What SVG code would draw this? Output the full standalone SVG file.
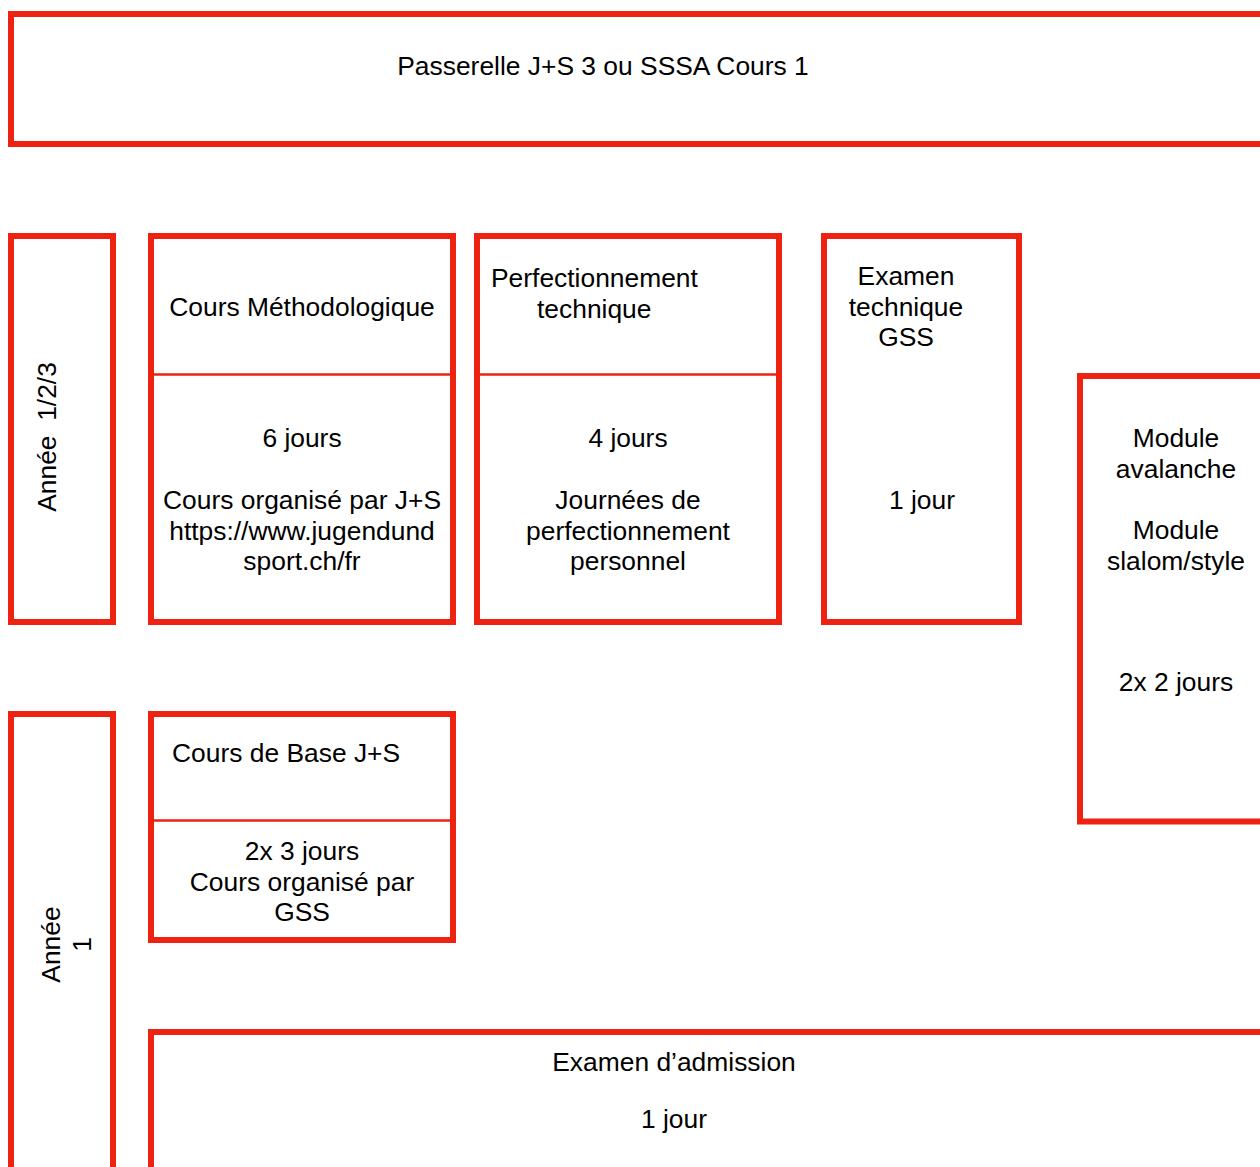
<svg xmlns="http://www.w3.org/2000/svg" width="1260" height="1167" viewBox="0 0 1260 1167">
<style>
.box{fill:#fff;stroke:#EE2210;stroke-width:6}
.div{stroke:#EE2210;stroke-width:2.5}
text{font-family:"Liberation Sans",Arial,sans-serif;font-size:26.4px;fill:#000}
.c{text-anchor:middle}
</style>
<rect width="1260" height="1167" fill="#fff"/>
<g id="passerelle">
<rect class="box" x="11" y="14" width="1260" height="130"/>
<text class="c" x="603" y="75">Passerelle J+S 3 ou SSSA Cours 1</text>
</g>
<g id="annee123">
<rect class="box" x="11" y="236" width="102" height="386"/>
<text class="c" transform="translate(56,437) rotate(-90)" xml:space="preserve">Année  1/2/3</text>
</g>
<g id="methodo">
<rect class="box" x="151" y="236" width="302" height="386"/>
<line class="div" x1="151" y1="374.5" x2="453" y2="374.5"/>
<text class="c" x="302" y="315.5">Cours Méthodologique</text>
<text class="c" x="302" y="447">6 jours</text>
<text class="c" x="302" y="509">Cours organisé par J+S</text>
<text class="c" x="302" y="539.5">https://www.jugendund</text>
<text class="c" x="302" y="570">sport.ch/fr</text>
</g>
<g id="perfectionnement">
<rect class="box" x="477" y="236" width="302" height="386"/>
<line class="div" x1="477" y1="374.5" x2="779" y2="374.5"/>
<text x="491" y="287">Perfectionnement</text>
<text x="537" y="317.5">technique</text>
<text class="c" x="628" y="447">4 jours</text>
<text class="c" x="628" y="509">Journées de</text>
<text class="c" x="628" y="539.5">perfectionnement</text>
<text class="c" x="628" y="570">personnel</text>
</g>
<g id="examen-technique">
<rect class="box" x="824" y="236" width="195" height="386"/>
<text class="c" x="906" y="285">Examen</text>
<text class="c" x="906" y="315.5">technique</text>
<text class="c" x="906" y="346">GSS</text>
<text class="c" x="922" y="509">1 jour</text>
</g>
<g id="modules">
<rect class="box" x="1080" y="376" width="200" height="445.5"/>
<text class="c" x="1176" y="447">Module</text>
<text class="c" x="1176" y="477.5">avalanche</text>
<text class="c" x="1176" y="539">Module</text>
<text class="c" x="1176" y="570">slalom/style</text>
<text class="c" x="1176" y="691">2x 2 jours</text>
</g>
<g id="annee1">
<rect class="box" x="11" y="714" width="102" height="500"/>
<text class="c" transform="translate(60,944.5) rotate(-90)">Année</text>
<text class="c" transform="translate(90.5,944.5) rotate(-90)">1</text>
</g>
<g id="cours-base">
<rect class="box" x="151" y="714" width="302" height="226"/>
<line class="div" x1="151" y1="820.5" x2="453" y2="820.5"/>
<text x="172" y="762">Cours de Base J+S</text>
<text class="c" x="302" y="860">2x 3 jours</text>
<text class="c" x="302" y="890.5">Cours organisé par</text>
<text class="c" x="302" y="921">GSS</text>
</g>
<g id="examen-admission">
<rect class="box" x="151" y="1032" width="1200" height="200"/>
<text class="c" x="674" y="1071">Examen d’admission</text>
<text class="c" x="674" y="1128">1 jour</text>
</g>
<g id="connectors"></g>
</svg>
